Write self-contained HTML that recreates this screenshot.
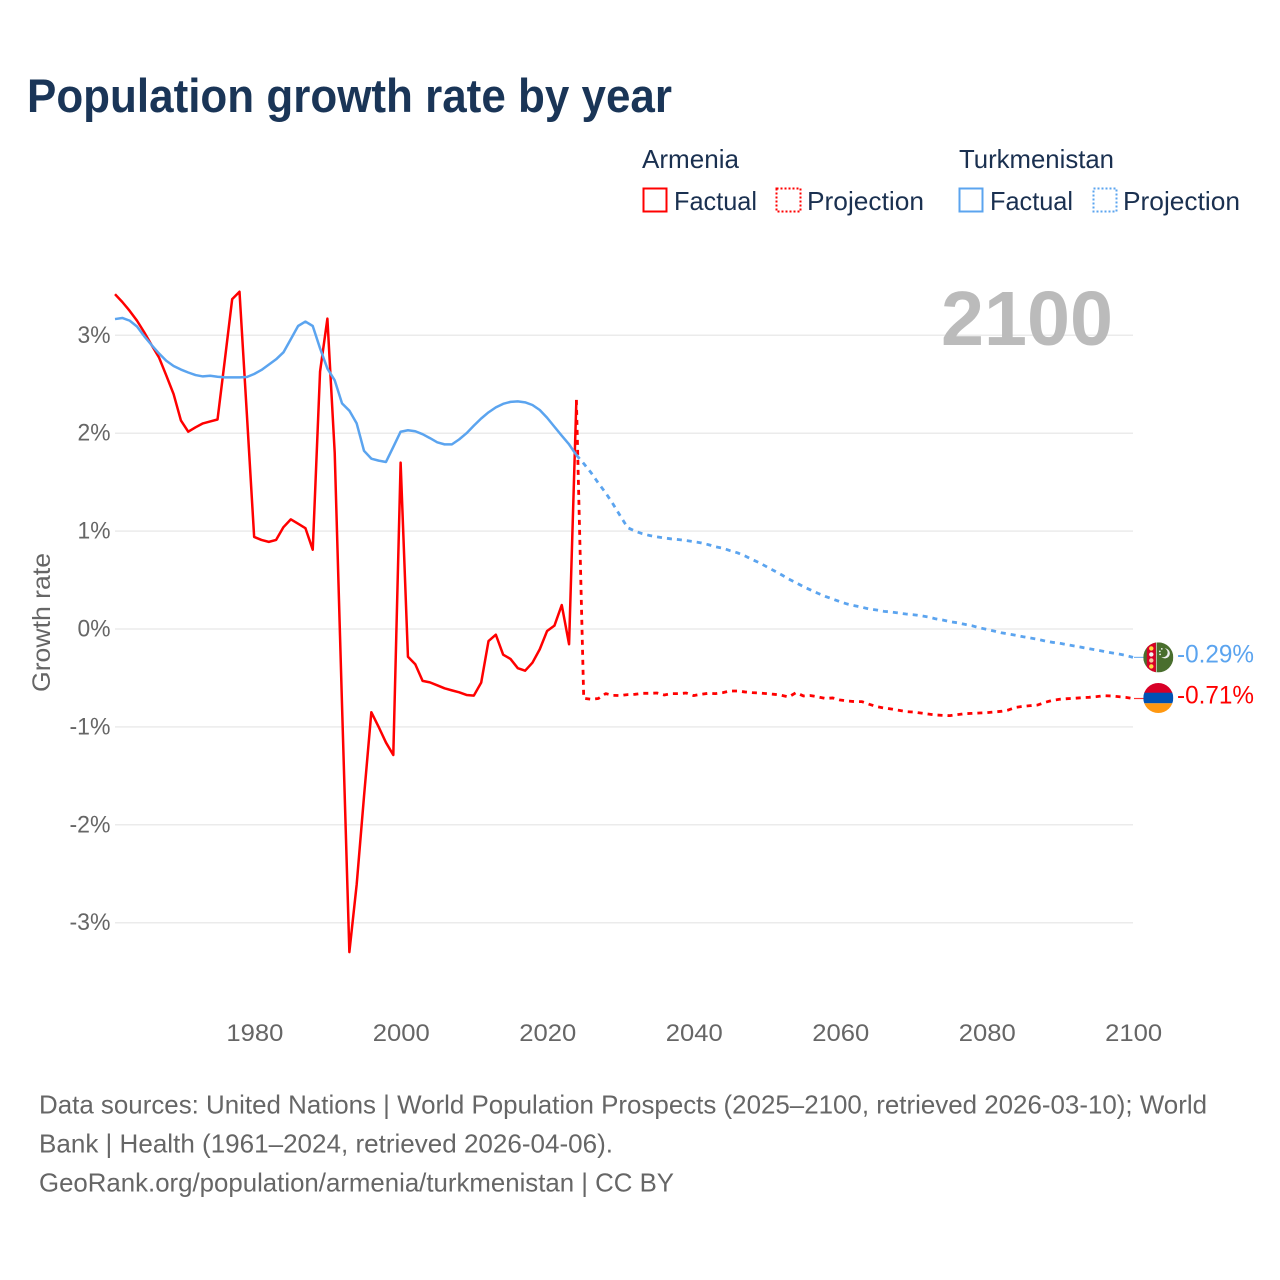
<!DOCTYPE html>
<html lang="en">
<head>
<meta charset="utf-8">
<title>Population growth rate by year</title>
<style>
html,body{margin:0;padding:0;background:#fff;}
svg{display:block;font-family:"Liberation Sans",Arial,sans-serif;}
</style>
</head>
<body>
<svg id="chart" xmlns="http://www.w3.org/2000/svg" width="1280" height="1280" viewBox="0 0 1280 1280">
  <rect width="1280" height="1280" fill="#fff"/>
  <text x="27" y="112" font-size="47" font-weight="700" fill="#1a3557" textLength="645" lengthAdjust="spacingAndGlyphs">Population growth rate by year</text>

  <g font-size="26" fill="#1a3050">
    <text x="642" y="168" textLength="97" lengthAdjust="spacingAndGlyphs">Armenia</text>
    <text x="959" y="168" textLength="155" lengthAdjust="spacingAndGlyphs">Turkmenistan</text>
    <g>
      <rect x="643.5" y="188.5" width="23" height="23" fill="none" stroke="#ff0000" stroke-width="2"/>
      <text x="674" y="210" textLength="83" lengthAdjust="spacingAndGlyphs">Factual</text>
    </g>
    <g>
      <rect x="776.5" y="188.5" width="24" height="23" fill="none" stroke="#ff0000" stroke-width="2" stroke-dasharray="2 2"/>
      <text x="807" y="210" textLength="117" lengthAdjust="spacingAndGlyphs">Projection</text>
    </g>
    <g>
      <rect x="959.5" y="188.5" width="23" height="23" fill="none" stroke="#5ba4ef" stroke-width="2"/>
      <text x="990" y="210" textLength="83" lengthAdjust="spacingAndGlyphs">Factual</text>
    </g>
    <g>
      <rect x="1093.5" y="188.5" width="23" height="23" fill="none" stroke="#5ba4ef" stroke-width="2" stroke-dasharray="2 2"/>
      <text x="1123" y="210" textLength="117" lengthAdjust="spacingAndGlyphs">Projection</text>
    </g>
  </g>

  <g id="grid"></g>
  <text x="941" y="345" font-size="77" font-weight="700" fill="#bbbbbb" textLength="172" lengthAdjust="spacingAndGlyphs">2100</text>
  <g id="yticks"></g>
  <g id="xticks"></g>
  <text transform="translate(50,622.5) rotate(-90)" text-anchor="middle" font-size="25" fill="#666" textLength="139" lengthAdjust="spacingAndGlyphs">Growth rate</text>
  <g id="series"></g>

  <g id="flag-turkmenistan">
    <clipPath id="clip-tm"><circle cx="0" cy="0" r="15"/></clipPath>
    <g clip-path="url(#clip-tm)">
      <rect x="-15" y="-15" width="30" height="30" fill="#496e2d"/>
      <rect x="-11.5" y="-15" width="9" height="30" fill="#d80027"/>
      <rect x="-2.2" y="-15" width="0.8" height="30" fill="#c9d4bd"/>
      <circle cx="-7" cy="-9" r="2.2" fill="#ffda44"/>
      <circle cx="-7" cy="-3" r="2.2" fill="#f3f3f3"/>
      <circle cx="-7" cy="3" r="2.2" fill="#f3c8a0"/>
      <circle cx="-7" cy="9" r="2.2" fill="#ffda44"/>
      <path d="M7 -9 A5 5 0 1 1 3.5 -0.5 A4 4 0 1 0 7 -9Z" fill="#f0f0f0" transform="translate(-0.5,0)"/>
      <circle cx="1.5" cy="-6" r="0.9" fill="#f0f0f0"/>
      <circle cx="3.5" cy="-8.5" r="0.9" fill="#f0f0f0"/>
      <circle cx="1.8" cy="-3" r="0.9" fill="#f0f0f0"/>
    </g>
  </g>
  <g id="flag-armenia">
    <clipPath id="clip-am"><circle cx="0" cy="0" r="15"/></clipPath>
    <g clip-path="url(#clip-am)">
      <rect x="-15" y="-15" width="30" height="10" fill="#d80027"/>
      <rect x="-15" y="-5.3" width="30" height="10.6" fill="#0052b4"/>
      <rect x="-15" y="5.3" width="30" height="10" fill="#ff9811"/>
    </g>
  </g>
  <text id="label-turkmenistan" x="1177" font-size="25" fill="#5ba4ef" textLength="77" lengthAdjust="spacingAndGlyphs"></text>
  <text id="label-armenia" x="1177" font-size="25" fill="#ff0000" textLength="77" lengthAdjust="spacingAndGlyphs"></text>

  <g font-size="26" fill="#666">
    <text x="39" y="1113.5" textLength="1168" lengthAdjust="spacingAndGlyphs">Data sources: United Nations | World Population Prospects (2025–2100, retrieved 2026-03-10); World</text>
    <text x="39" y="1152.5" textLength="574" lengthAdjust="spacingAndGlyphs">Bank | Health (1961–2024, retrieved 2026-04-06).</text>
    <text x="39" y="1191.5" textLength="635" lengthAdjust="spacingAndGlyphs">GeoRank.org/population/armenia/turkmenistan | CC BY</text>
  </g>
</svg>
<script>
const xTickLabels = ['1980', '2000', '2020', '2040', '2060', '2080', '2100'];
const yTickLabels = ['3%', '2%', '1%', '0%', '-1%', '-2%', '-3%'];
const yTickValues = [3, 2, 1, 0, -1, -2, -3];
const factualStartYear = 1961;
const projectionStartYear = 2024;
const armeniaFactual = [3.42,3.34,3.25,3.15,3.03,2.90,2.775,2.59,2.40,2.13,2.015,2.06,2.10,2.12,2.14,2.75,3.37,3.445,2.2,0.94,0.91,0.89,0.91,1.04,1.12,1.076,1.03,0.81,2.63,3.17,1.80,-0.78,-3.30,-2.61,-1.71,-0.85,-1.0,-1.16,-1.287,1.70,-0.283,-0.36,-0.53,-0.545,-0.575,-0.606,-0.627,-0.647,-0.674,-0.68,-0.548,-0.123,-0.058,-0.262,-0.306,-0.40,-0.426,-0.344,-0.207,-0.02,0.034,0.245,-0.156,2.34];
const armeniaProjection = [2.34,-0.708,-0.718,-0.71,-0.66,-0.678,-0.68,-0.67,-0.667,-0.657,-0.657,-0.654,-0.674,-0.66,-0.66,-0.654,-0.68,-0.667,-0.657,-0.66,-0.65,-0.633,-0.633,-0.643,-0.65,-0.654,-0.66,-0.667,-0.677,-0.694,-0.65,-0.684,-0.68,-0.694,-0.71,-0.704,-0.725,-0.735,-0.742,-0.742,-0.769,-0.793,-0.807,-0.817,-0.83,-0.844,-0.848,-0.858,-0.868,-0.878,-0.882,-0.885,-0.875,-0.865,-0.862,-0.858,-0.855,-0.848,-0.841,-0.827,-0.80,-0.79,-0.783,-0.776,-0.749,-0.729,-0.718,-0.712,-0.708,-0.702,-0.698,-0.691,-0.681,-0.684,-0.691,-0.698,-0.71];
const turkmenistanFactual = [3.166,3.177,3.15,3.09,2.99,2.90,2.815,2.74,2.686,2.65,2.62,2.594,2.58,2.587,2.577,2.57,2.57,2.57,2.574,2.605,2.646,2.70,2.755,2.826,2.96,3.095,3.14,3.095,2.867,2.66,2.54,2.305,2.23,2.10,1.82,1.74,1.72,1.706,1.86,2.015,2.03,2.02,1.99,1.95,1.907,1.886,1.886,1.937,2.0,2.077,2.15,2.213,2.264,2.30,2.32,2.325,2.315,2.288,2.237,2.158,2.066,1.975,1.886,1.777];
const turkmenistanProjection = [1.777,1.69,1.597,1.49,1.39,1.277,1.154,1.035,1.00,0.973,0.955,0.941,0.93,0.92,0.913,0.903,0.893,0.88,0.862,0.84,0.825,0.80,0.778,0.747,0.71,0.676,0.635,0.595,0.554,0.51,0.473,0.432,0.398,0.364,0.333,0.306,0.279,0.255,0.238,0.222,0.204,0.194,0.18,0.174,0.163,0.153,0.146,0.136,0.123,0.105,0.092,0.075,0.064,0.048,0.034,0.013,-0.003,-0.02,-0.038,-0.051,-0.064,-0.079,-0.092,-0.105,-0.123,-0.136,-0.146,-0.16,-0.174,-0.187,-0.201,-0.215,-0.228,-0.242,-0.255,-0.269,-0.29];
const endLabels = ['-0.29%', '-0.71%'];

const NS = 'http://www.w3.org/2000/svg';
function xScale(year) { return 115 + (year - 1961) * 7.3237; }
function yScale(value) { return 629 - value * 97.9; }
function make(tag, parent, attrs) {
  const el = document.createElementNS(NS, tag);
  for (const k in attrs) el.setAttribute(k, attrs[k]);
  parent.appendChild(el);
  return el;
}
const gridGroup = document.getElementById('grid');
const yGroup = document.getElementById('yticks');
const xGroup = document.getElementById('xticks');
const seriesGroup = document.getElementById('series');

yTickValues.forEach(function (v, i) {
  const line = make('line', gridGroup, { x1: 115, x2: 1133, y1: yScale(v), y2: yScale(v), stroke: '#ebebeb', 'stroke-width': 1.5 });
  
  
  const label = make('text', yGroup, { x: 110.5, y: yScale(v) + 7.5, 'text-anchor': 'end', 'font-size': 24.5, fill: '#666', textLength: yTickLabels[i].charAt(0) === '-' ? 41 : 33, lengthAdjust: 'spacingAndGlyphs' });
  
  
  label.textContent = yTickLabels[i];
});

xTickLabels.forEach(function (t) {
  const label = make('text', xGroup, { x: xScale(Number(t)) + 0.7, y: 1041, 'text-anchor': 'middle', 'font-size': 24.5, fill: '#666', textLength: 57, lengthAdjust: 'spacingAndGlyphs' });
  
  
  label.textContent = t;
});

function pathFor(values, startYear) {
  return values.map(function (v, i) {
    return (i ? 'L' : 'M') + xScale(startYear + i).toFixed(2) + ' ' + yScale(v).toFixed(2);
  }).join(' ');
}
function drawLine(values, startYear, color, dashed) {
  const p = make('path', seriesGroup, { d: pathFor(values, startYear), fill: 'none', stroke: color, 'stroke-width': dashed ? 2.8 : 2.5, 'stroke-linejoin': 'round' });
  if (dashed) p.setAttribute('stroke-dasharray', '5 5');
  return p;
}
const projRed = drawLine(armeniaProjection, projectionStartYear, '#ff0000', true);


const factRed = drawLine(armeniaFactual, factualStartYear, '#ff0000', false);


const projBlue = drawLine(turkmenistanProjection, projectionStartYear, '#5ba4ef', true);


const factBlue = drawLine(turkmenistanFactual, factualStartYear, '#5ba4ef', false);



const tmEnd = yScale(turkmenistanProjection[turkmenistanProjection.length - 1]);
const amEnd = yScale(armeniaProjection[armeniaProjection.length - 1]);
const connA = make('line', seriesGroup, { x1: 1134, x2: 1144, y1: amEnd, y2: amEnd, stroke: '#ff0000', 'stroke-width': 1.2, opacity: 0.8 });


const connT = make('line', seriesGroup, { x1: 1134, x2: 1144, y1: tmEnd, y2: tmEnd, stroke: '#5ba4ef', 'stroke-width': 1.2, opacity: 0.8 });


document.getElementById('flag-turkmenistan').setAttribute('transform', 'translate(1158.3,' + tmEnd + ')');
document.getElementById('flag-armenia').setAttribute('transform', 'translate(1158.3,' + (amEnd - 0.5) + ')');
const labT = document.getElementById('label-turkmenistan');
labT.setAttribute('y', tmEnd + 5.3);
labT.textContent = endLabels[0];
const labA = document.getElementById('label-armenia');
labA.setAttribute('y', amEnd + 5);
labA.textContent = endLabels[1];
</script>
</body>
</html>
